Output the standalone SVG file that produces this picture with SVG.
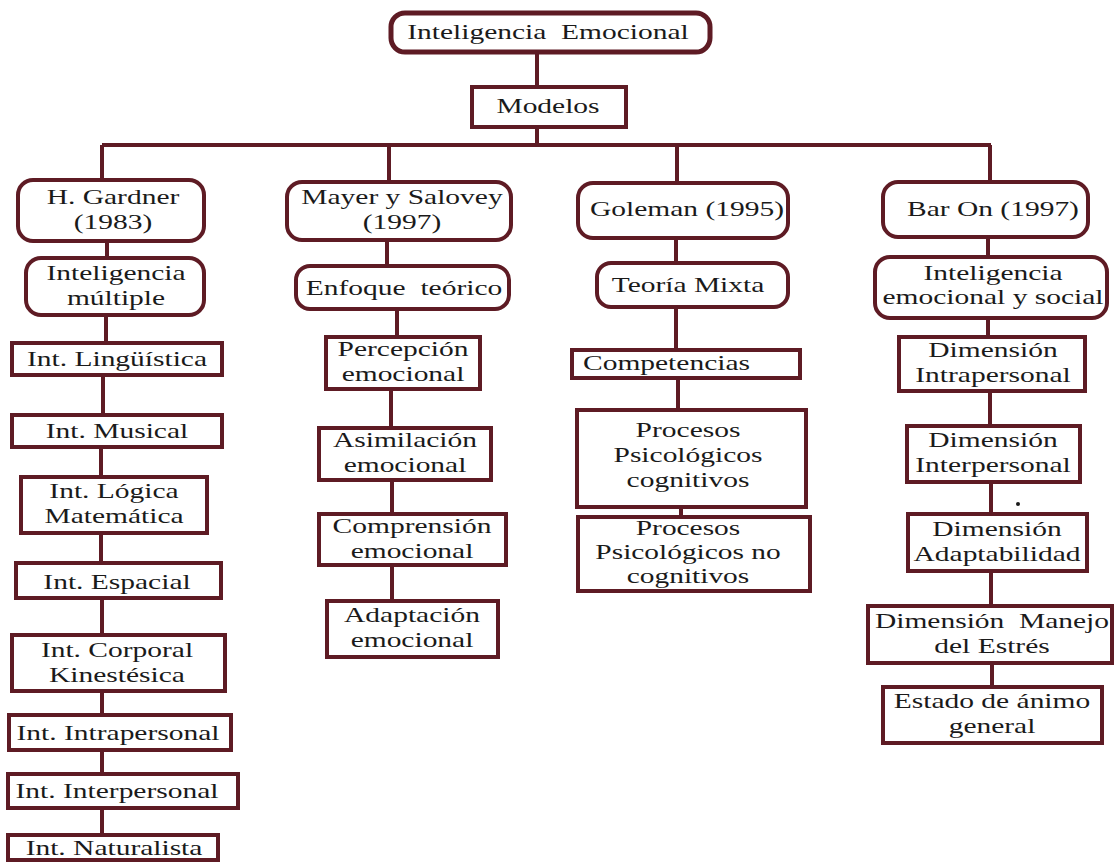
<svg xmlns="http://www.w3.org/2000/svg" width="1115" height="862" viewBox="0 0 1115 862">
<style>
.b{fill:#fff;stroke:#5e1b24;stroke-width:4}
.c{fill:none;stroke:#5e1b24;stroke-width:4}
.t{font-family:"Liberation Serif","Times New Roman",serif;font-size:22px;fill:#1a1a1a;text-anchor:middle}
.s{text-anchor:start}
.sm{font-size:21px}
</style>
<rect width="1115" height="862" fill="#fff"/>
<g id="connectors">
<path class="c" d="M537 52V87M537 127V145M102 145H991M102 145V180M389 145V182M677 145V183M990 145V182"/>
<path class="c" d="M107 241V258M106 315V343M103 375V415M101 447V477M101 533V563M102 598V635M102 691V715M102 750V774M102 808V835"/>
<path class="c" d="M387 240V266M397 309V337M391 389V428M392 480V514M392 565V601"/>
<path class="c" d="M676 238V263M676 307V350M678 378V410M681 507V517"/>
<path class="c" d="M988 237V257M988 318V337M990 391V426M991 482V514M991 571V606M992 663V687"/>
<circle cx="1018" cy="504" r="2" fill="#1a1a1a"/>
</g>
<g id="n-ie"><rect class="b" x="391" y="13" width="319" height="39" rx="14" style="stroke-width:5"/><text class="t" transform="translate(548 0) scale(1.34 1)" y="39">Inteligencia&#160; Emocional</text></g>
<g id="n-modelos"><rect class="b" x="472" y="87" width="154" height="40"/><text class="t" transform="translate(548 0) scale(1.34 1)" y="113">Modelos</text></g>

<g id="n-gardner"><rect class="b" x="18" y="180" width="186" height="61" rx="15"/><text class="t" transform="translate(113 0) scale(1.34 1)"><tspan x="0" y="204">H. Gardner</tspan><tspan x="0" y="229">(1983)</tspan></text></g>
<g id="n-multiple"><rect class="b" x="26" y="258" width="178" height="57" rx="15"/><text class="t" transform="translate(116 0) scale(1.34 1)"><tspan x="0" y="280">Inteligencia</tspan><tspan x="0" y="305">múltiple</tspan></text></g>
<g id="n-linguistica"><rect class="b" x="12" y="343" width="210" height="32"/><text class="t" transform="translate(117 0) scale(1.34 1)" y="366.5">Int. Lingüística</text></g>
<g id="n-musical"><rect class="b" x="12" y="415" width="210" height="32"/><text class="t" transform="translate(117 0) scale(1.34 1)" y="438.5">Int. Musical</text></g>
<g id="n-logica"><rect class="b" x="21" y="477" width="186" height="56"/><text class="t" transform="translate(114 0) scale(1.34 1)"><tspan x="0" y="498.5">Int. Lógica</tspan><tspan x="0" y="523.5">Matemática</tspan></text></g>
<g id="n-espacial"><rect class="b" x="16" y="563" width="205" height="35"/><text class="t" transform="translate(117 0) scale(1.34 1)" y="589.5">Int. Espacial</text></g>
<g id="n-corporal"><rect class="b" x="12" y="635" width="213" height="56"/><text class="t" transform="translate(117 0) scale(1.34 1)"><tspan x="0" y="657">Int. Corporal</tspan><tspan x="0" y="682">Kinestésica</tspan></text></g>
<g id="n-intra"><rect class="b" x="9" y="715" width="222" height="35"/><text class="t" transform="translate(118 0) scale(1.34 1)" y="740.5">Int. Intrapersonal</text></g>
<g id="n-inter"><rect class="b" x="8" y="774" width="230" height="34"/><text class="t" transform="translate(117 0) scale(1.34 1)" y="798.5">Int. Interpersonal</text></g>
<g id="n-naturalista"><rect class="b" x="8" y="835" width="210" height="25"/><text class="t" transform="translate(114 0) scale(1.34 1)" y="855.5">Int. Naturalista</text></g>

<g id="n-mayer"><rect class="b" x="287" y="182" width="224" height="58" rx="15"/><text class="t" transform="translate(402 0) scale(1.34 1)"><tspan x="0" y="204.5">Mayer y Salovey</tspan><tspan x="0" y="229.5">(1997)</tspan></text></g>
<g id="n-enfoque"><rect class="b" x="296" y="266" width="213" height="43" rx="14"/><text class="t" transform="translate(404 0) scale(1.34 1)" y="295">Enfoque&#160; teórico</text></g>
<g id="n-percepcion"><rect class="b" x="326" y="337" width="154" height="52"/><text class="t" transform="translate(403 0) scale(1.34 1)"><tspan x="0" y="356.5">Percepción</tspan><tspan x="0" y="381.5">emocional</tspan></text></g>
<g id="n-asimilacion"><rect class="b" x="319" y="428" width="172" height="52"/><text class="t" transform="translate(405 0) scale(1.34 1)"><tspan x="0" y="447.5">Asimilación</tspan><tspan x="0" y="472.5">emocional</tspan></text></g>
<g id="n-comprension"><rect class="b" x="319" y="514" width="187" height="51"/><text class="t" transform="translate(412 0) scale(1.34 1)"><tspan x="0" y="533">Comprensión</tspan><tspan x="0" y="558">emocional</tspan></text></g>
<g id="n-adaptacion"><rect class="b" x="327" y="601" width="171" height="56"/><text class="t" transform="translate(412 0) scale(1.34 1)"><tspan x="0" y="622.5">Adaptación</tspan><tspan x="0" y="647.5">emocional</tspan></text></g>

<g id="n-goleman"><rect class="b" x="578" y="183" width="210" height="55" rx="15"/><text class="t" transform="translate(687 0) scale(1.34 1)" y="216.5">Goleman (1995)</text></g>
<g id="n-mixta"><rect class="b" x="597" y="263" width="191" height="44" rx="14"/><text class="t" transform="translate(688 0) scale(1.34 1)" y="292.5">Teoría Mixta</text></g>
<g id="n-competencias"><rect class="b" x="572" y="350" width="228" height="28"/><text class="t s" transform="translate(583 0) scale(1.34 1)" y="370.5">Competencias</text></g>
<g id="n-cognitivos"><rect class="b" x="577" y="410" width="229" height="97"/><text class="t" transform="translate(688 0) scale(1.34 1)"><tspan x="0" y="437.5">Procesos</tspan><tspan x="0" y="462.5">Psicológicos</tspan><tspan x="0" y="487.5">cognitivos</tspan></text></g>
<g id="n-nocognitivos"><rect class="b" x="578" y="517" width="232" height="74"/><text class="t sm" transform="translate(688 0) scale(1.4 1)"><tspan x="0" y="535">Procesos</tspan><tspan x="0" y="559">Psicológicos no</tspan><tspan x="0" y="583">cognitivos</tspan></text></g>

<g id="n-baron"><rect class="b" x="883" y="182" width="205" height="55" rx="15"/><text class="t" transform="translate(993 0) scale(1.34 1)" y="216.5">Bar On (1997)</text></g>
<g id="n-social"><rect class="b" x="875" y="257" width="232" height="61" rx="15"/><text class="t" transform="translate(993 0) scale(1.34 1)"><tspan x="0" y="280.5">Inteligencia</tspan><tspan x="0" y="304.5">emocional y social</tspan></text></g>
<g id="n-dintra"><rect class="b" x="899" y="337" width="186" height="54"/><text class="t" transform="translate(993 0) scale(1.34 1)"><tspan x="0" y="357.5">Dimensión</tspan><tspan x="0" y="382.5">Intrapersonal</tspan></text></g>
<g id="n-dinter"><rect class="b" x="907" y="426" width="173" height="56"/><text class="t" transform="translate(993 0) scale(1.34 1)"><tspan x="0" y="447.5">Dimensión</tspan><tspan x="0" y="472.5">Interpersonal</tspan></text></g>
<g id="n-dadapt"><rect class="b" x="908" y="514" width="179" height="57"/><text class="t" transform="translate(997 0) scale(1.34 1)"><tspan x="0" y="536">Dimensión</tspan><tspan x="0" y="561">Adaptabilidad</tspan></text></g>
<g id="n-manejo"><rect class="b" x="868" y="606" width="244" height="57"/><text class="t" transform="translate(992 0) scale(1.34 1)"><tspan x="0" y="628">Dimensión&#160; Manejo</tspan><tspan x="0" y="653">del Estrés</tspan></text></g>
<g id="n-estado"><rect class="b" x="883" y="687" width="219" height="56"/><text class="t" transform="translate(992 0) scale(1.34 1)"><tspan x="0" y="708.5">Estado de ánimo</tspan><tspan x="0" y="733.5">general</tspan></text></g>
</svg>
